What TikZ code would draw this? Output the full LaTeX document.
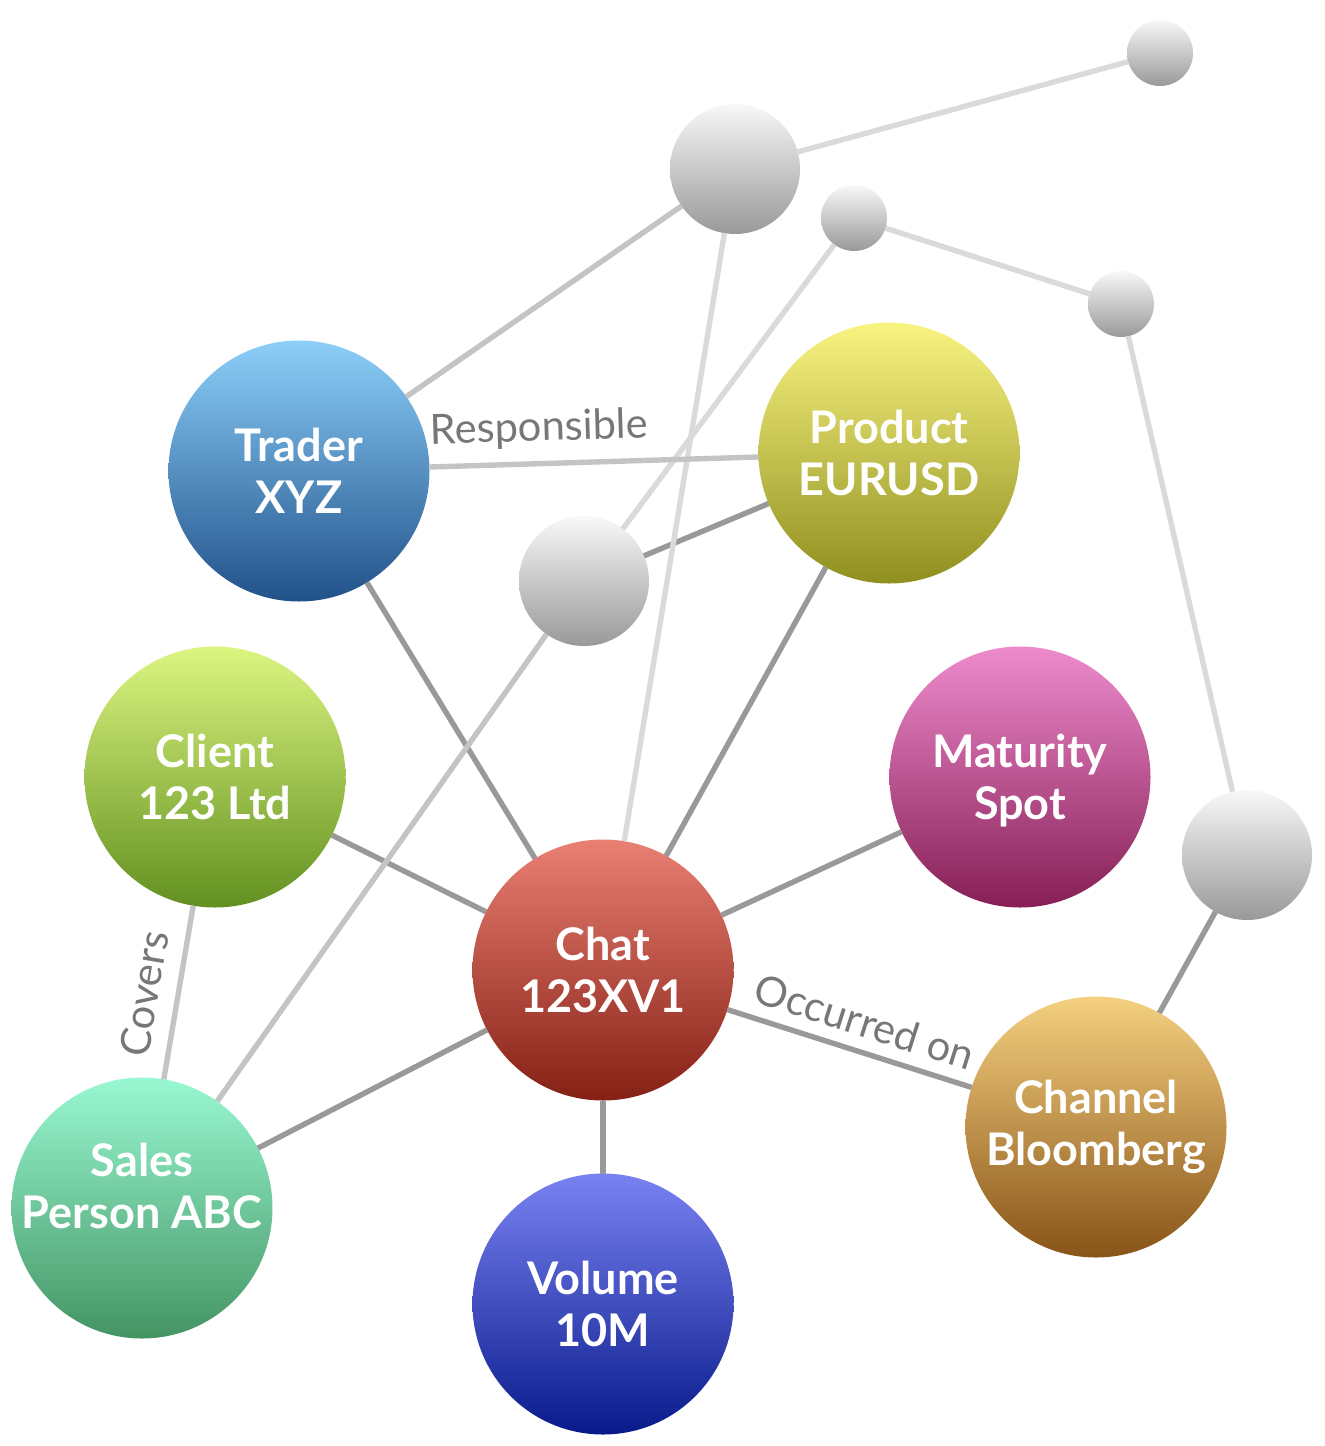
\documentclass[tikz,border=0pt]{standalone}
\usepackage{fontspec}
\setmainfont{Lato}
\definecolor{edgedark}{HTML}{999999}
\definecolor{edgemid}{HTML}{C4C4C4}
\definecolor{edgelight}{HTML}{DADADA}
\definecolor{labelgray}{HTML}{777777}
\definecolor{chatA}{HTML}{EA7F73}
\definecolor{chatB}{HTML}{852015}
\definecolor{traderA}{HTML}{8CCFF9}
\definecolor{traderB}{HTML}{215189}
\definecolor{productA}{HTML}{F9F482}
\definecolor{productB}{HTML}{8F8F1F}
\definecolor{clientA}{HTML}{DCF581}
\definecolor{clientB}{HTML}{629020}
\definecolor{maturityA}{HTML}{EE8BCD}
\definecolor{maturityB}{HTML}{861F55}
\definecolor{salesA}{HTML}{99F8D2}
\definecolor{salesB}{HTML}{449463}
\definecolor{volumeA}{HTML}{7A82F2}
\definecolor{volumeB}{HTML}{081A8A}
\definecolor{channelA}{HTML}{F5D080}
\definecolor{channelB}{HTML}{885418}
\definecolor{greyA}{HTML}{F8F8F8}
\definecolor{greyB}{HTML}{999999}
\tikzset{
  every picture/.style={
    line width=2.7pt
  },
  balltext/.style={
    text=white, align=center,
    font=\fontsize{22.5}{26}\selectfont\bfseries
  },
  ball/.style 2 args={
    circle, minimum size=130.5pt, inner sep=0pt, outer sep=0pt,
    balltext, top color=#1, bottom color=#2
  },
  greybig/.style={
    circle, minimum size=65pt, inner sep=0pt, outer sep=0pt,
    top color=greyA, bottom color=greyB
  },
  greysmall/.style={
    greybig, minimum size=33pt
  },
  edgelabel/.style={
    sloped, inner sep=0pt, text=labelgray,
    font=\fontsize{20.8}{24}\selectfont
  }
}
\begin{document}
\begin{tikzpicture}[x=0.5pt,y=-0.5pt]
      \useasboundingbox (0,0) rectangle (1324,1446);
      \node[ball={chatA}{chatB}] (chat) at (603,970) {Chat\\123XV1};
      \node[ball={traderA}{traderB}] (trader) at (299,471) {Trader\\XYZ};
      \node[ball={productA}{productB}] (product) at (889,453) {Product\\EURUSD};
      \node[ball={clientA}{clientB}] (client) at (215,777) {Client\\123 Ltd};
      \node[ball={maturityA}{maturityB}] (maturity) at (1020,777) {Maturity\\\smash{Spot}};
      \node[ball={salesA}{salesB},
        label={[balltext,yshift=11pt]center:Sales\\Person ABC}] (sales) at (142,1208) {};
      \node[ball={volumeA}{volumeB}] (volume) at (603,1304) {Volume\\10M};
      \node[ball={channelA}{channelB}] (channel) at (1096,1127) {Channel\\Bloomberg};
      \node[greybig] (hubtop) at (735,169) {};
      \node[greybig] (hubmid) at (584,581) {};
      \node[greybig] (hubright) at (1247,855) {};
      \node[greysmall] (leafa) at (1160,53) {};
      \node[greysmall] (leafb) at (854,218) {};
      \node[greysmall] (leafc) at (1121,304) {};
      % edges
      \foreach \a/\b in {chat/trader,chat/product,chat/client,chat/maturity,chat/sales,chat/volume,hubmid/product,hubright/channel}
        \draw [edgedark] (\a) -- (\b);
      \foreach \a/\b in {trader/hubtop,hubmid/sales}
        \draw [edgemid] (\a) -- (\b);
      \foreach \a/\b in {chat/hubtop,hubtop/leafa,hubmid/leafb,leafb/leafc,leafc/hubright}
        \draw [edgelight] (\a) -- (\b);
      \draw [edgemid] (trader) -- node[edgelabel,above=6.5pt,pos=0.336]{Responsible} (product);
      \draw [edgemid] (client) -- node[edgelabel,above=8pt,pos=0.54]{Covers} (sales);
      \draw [edgedark] (chat) -- node[edgelabel,above=6pt,pos=0.525]{Occurred on} (channel);
\end{tikzpicture}
\end{document}
